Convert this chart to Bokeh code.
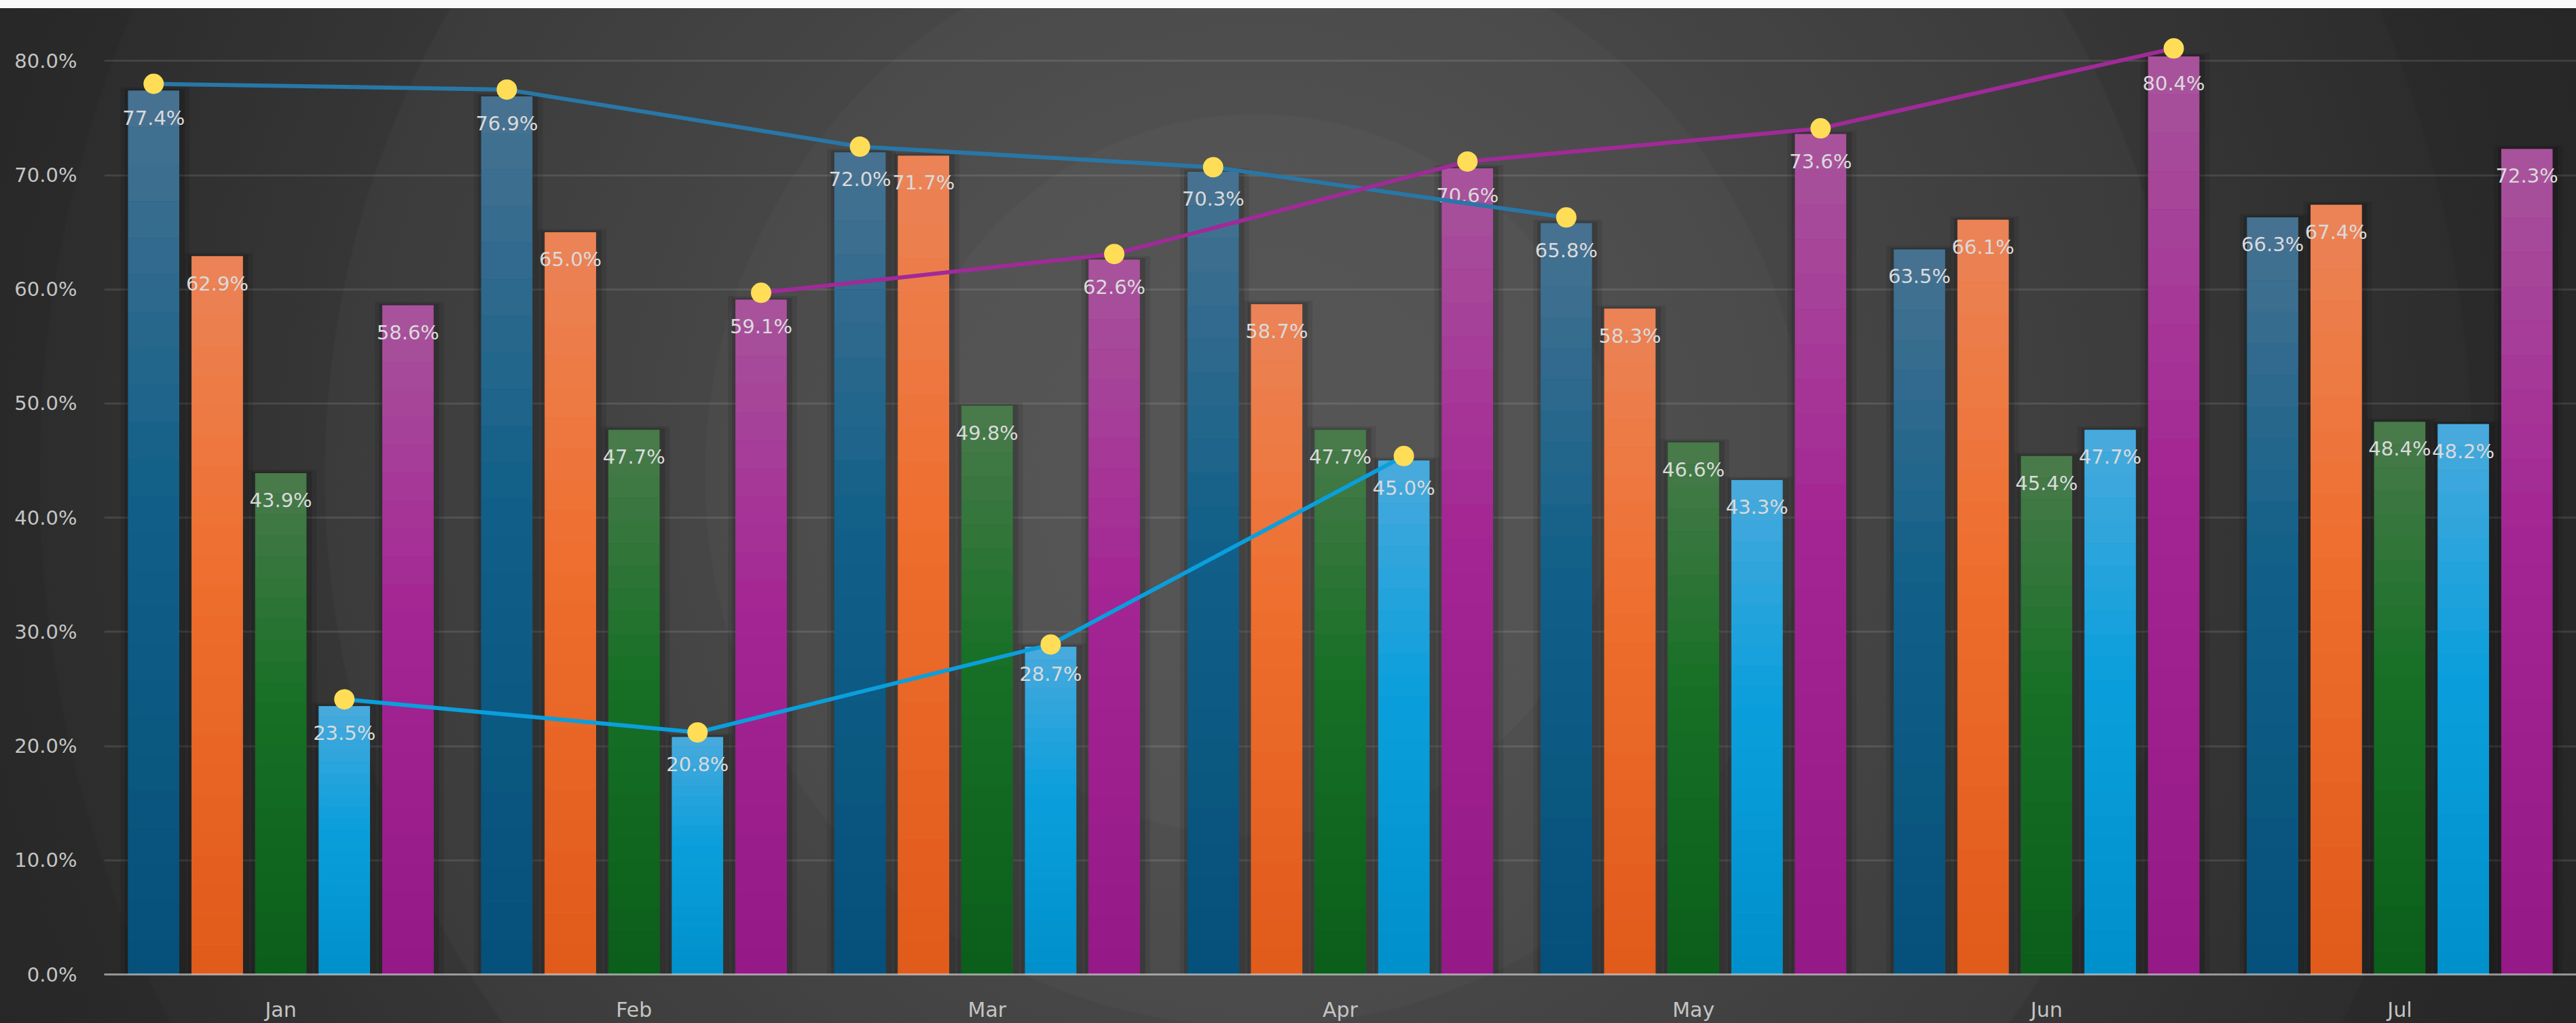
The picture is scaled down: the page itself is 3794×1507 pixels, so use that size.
import numpy as np
from bokeh.plotting import figure
from bokeh.models import Range1d, FixedTicker, PrintfTickFormatter
from bokeh.embed import file_html
from bokeh.resources import INLINE
from bokeh.core.properties import value

# ---------------- data ----------------
months = ["Jan", "Feb", "Mar", "Apr", "May", "Jun", "Jul"]
series_a = [77.4, 76.9, 72.0, 70.3, 65.8, 63.5, 66.3]   # dark blue
series_b = [62.9, 65.0, 71.7, 58.7, 58.3, 66.1, 67.4]   # orange
series_c = [43.9, 47.7, 49.8, 47.7, 46.6, 45.4, 48.4]   # green
series_d = [23.5, 20.8, 28.7, 45.0, 43.3, 47.7, 48.2]   # light blue
series_e = [58.6, 59.1, 62.6, 70.6, 73.6, 80.4, 72.3]   # magenta

line_a_months = ["Jan", "Feb", "Mar", "Apr", "May"]
line_a = [78.0, 77.5, 72.5, 70.7, 66.3]
line_d_months = ["Jan", "Feb", "Mar", "Apr"]
line_d = [24.1, 21.2, 28.9, 45.4]
line_e_months = ["Feb", "Mar", "Apr", "May", "Jun"]
line_e = [59.7, 63.1, 71.2, 74.1, 81.1]

y_ticks = [0, 10, 20, 30, 40, 50, 60, 70, 80]

# ---------------- styles ----------------
W, H = 3794, 1507
offsets = [-0.36, -0.18, 0.0, 0.18, 0.36]
bar_w = 0.145
grad = [  # (top, mid, bottom)
    ("#487291", "#126089", "#04507a"),
    ("#eb8458", "#ee6e2e", "#e05a1a"),
    ("#4a7a4c", "#187026", "#0a5e1a"),
    ("#4aa9dc", "#0a9fdc", "#0090cc"),
    ("#a8549c", "#a42694", "#941886"),
]
line_colors = ["#2877a6", "#0a9fdc", "#a02a98"]
all_series = [series_a, series_b, series_c, series_d, series_e]


def hex2rgb(h):
    h = h.lstrip("#")
    return np.array([int(h[i:i + 2], 16) for i in (0, 2, 4)], dtype=float)


def mix(c1, c2, t):
    c = hex2rgb(c1) * (1 - t) + hex2rgb(c2) * t
    return "#%02x%02x%02x" % tuple(int(round(v)) for v in c)


def grad_color(g, t):  # t: 0 bottom -> 1 top
    top, mid, bot = g
    if t < 0.55:
        return mix(bot, mid, t / 0.55)
    return mix(mid, top, (t - 0.55) / 0.45)


mi = {m: i for i, m in enumerate(months)}

p = figure(width=W, height=H, output_backend="svg", toolbar_location=None,
           x_range=Range1d(-0.5, 6.5), y_range=Range1d(0, 84.6),
           min_border_left=153, min_border_right=0, min_border_top=12,
           min_border_bottom=72)
p.background_fill_alpha = 0
p.border_fill_alpha = 0
p.outline_line_color = None
p.styles = {
    "background": (
        "linear-gradient(#fafafa, #fafafa) 0 0 / 100% 12px no-repeat, "
        "radial-gradient(circle at 1850px 700px, #565656 0px, #535353 530px, "
        "#4f4f4f 533px, #4a4a4a 810px, #464646 813px, #3b3b3b 1370px, "
        "#363636 1373px, #2d2d2d 1790px, #2a2a2a 1793px, #222222 2400px)"
    )
}

# grid
p.xgrid.grid_line_color = None
p.ygrid.grid_line_color = "white"
p.ygrid.grid_line_alpha = 0.1
p.ygrid.grid_line_width = 3
p.ygrid.ticker = FixedTicker(ticks=y_ticks)

# axes
p.yaxis.ticker = FixedTicker(ticks=y_ticks)
p.yaxis.formatter = PrintfTickFormatter(format="%.1f%%")
p.yaxis.axis_line_color = None
p.yaxis.major_tick_line_color = None
p.yaxis.minor_tick_line_color = None
p.yaxis.major_label_standoff = 34
p.yaxis.major_label_text_font = "DejaVu Sans"
p.yaxis.major_label_text_font_size = "29px"
p.yaxis.major_label_text_color = "#c4c4c4"

p.xaxis.ticker = FixedTicker(ticks=list(range(len(months))))
p.xaxis.major_label_overrides = {i: m for i, m in enumerate(months)}
p.xaxis.axis_line_color = "#e0e0e0"
p.xaxis.axis_line_alpha = 0.6
p.xaxis.axis_line_width = 3
p.xaxis.major_tick_line_color = None
p.xaxis.minor_tick_line_color = None
p.xaxis.major_label_standoff = 28
p.xaxis.major_label_text_font = "DejaVu Sans"
p.xaxis.major_label_text_font_size = "30px"
p.xaxis.major_label_text_color = "#c4c4c4"

# bars
N = 24
for si, (vals, g) in enumerate(zip(all_series, grad)):
    xs = [i + offsets[si] for i in range(len(months))]
    # shadows
    p.vbar(x=[x + 0.004 for x in xs], width=bar_w + 0.05, top=[v + 0.3 for v in vals],
           bottom=0, fill_color="black", fill_alpha=0.09, line_color=None)
    p.vbar(x=[x + 0.003 for x in xs], width=bar_w + 0.025, top=[v + 0.15 for v in vals],
           bottom=0, fill_color="black", fill_alpha=0.14, line_color=None)
    # base bar
    p.vbar(x=xs, width=bar_w, top=vals, bottom=0, fill_color=g[1], line_color=None)
    # gradient slices
    sx, sb, st, sc = [], [], [], []
    for x, v in zip(xs, vals):
        for k in range(N):
            sx.append(x)
            sb.append(v * k / N)
            st.append(v * (k + 1) / N)
            sc.append(grad_color(g, (k + 0.5) / N))
    p.vbar(x=sx, width=bar_w, top=st, bottom=sb, fill_color=sc, line_color=None)

# bar labels
lx, ly, lt = [], [], []
for si, vals in enumerate(all_series):
    for i, v in enumerate(vals):
        lx.append(i + offsets[si])
        ly.append(v)
        lt.append("%.1f%%" % v)
p.text(x=lx, y=ly, text=lt, y_offset=40, text_align="center", text_baseline="middle",
       text_font=value("DejaVu Sans"), text_font_size="29px", text_color="#dadada")

# lines with markers
for (mlist, vals, si, col) in [(line_a_months, line_a, 0, line_colors[0]),
                               (line_d_months, line_d, 3, line_colors[1]),
                               (line_e_months, line_e, 4, line_colors[2])]:
    xs = [mi[m] + offsets[si] for m in mlist]
    p.line(xs, vals, line_color=col, line_width=6)
for (mlist, vals, si) in [(line_a_months, line_a, 0), (line_d_months, line_d, 3),
                          (line_e_months, line_e, 4)]:
    xs = [mi[m] + offsets[si] for m in mlist]
    p.scatter(xs, vals, size=30, fill_color="#ffdd57", line_color=None)

open("out.html", "w").write(file_html(p, INLINE))
